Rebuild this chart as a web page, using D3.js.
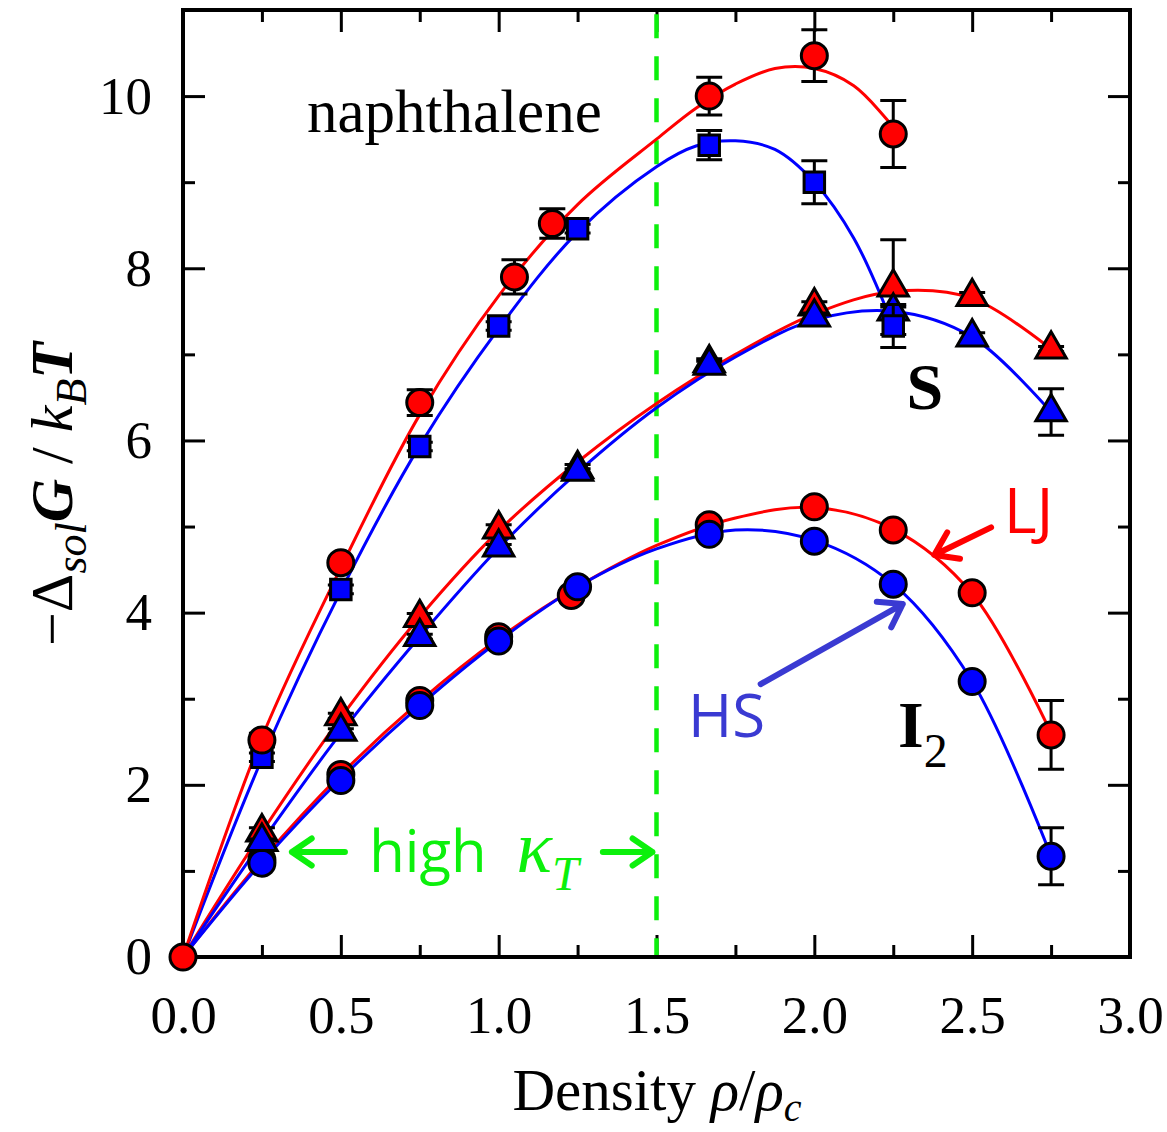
<!DOCTYPE html>
<meta charset="utf-8">
<style>
body { margin: 0; background: white; }
.axis path { display: none; }
.axis line { stroke: #000; stroke-width: 3px; }
.axis text { font-family: "Liberation Serif", serif; font-size: 53px; fill: #000; }
.fit { fill: none; stroke-width: 3px; }
.err { stroke: #000; stroke-width: 3px; fill: none; }
.mark { stroke: #000; stroke-width: 3px; }
</style>
<svg width="1167" height="1132"></svg>
<script src="https://d3js.org/d3.v7.min.js"></script>
<script>
// tick values
var xMajor = [0, 0.5, 1.0, 1.5, 2.0, 2.5, 3.0];
var xMinor = [0.25, 0.75, 1.25, 1.75, 2.25, 2.75];
var yMajor = [0, 2, 4, 6, 8, 10];
var yMinor = [1, 3, 5, 7, 9];

// simulation points [density, value, error]
var naphLJ = [[0.25, 2.52, 0.08], [0.5, 4.58, 0.05], [0.75, 6.44, 0.15], [1.05, 7.9, 0.2],
              [1.17, 8.52, 0.17], [1.667, 10.0, 0.22], [2.0, 10.47, 0.3], [2.25, 9.56, 0.39]];
var naphHS = [[0.25, 2.32, 0.05], [0.5, 4.27, 0.05], [0.75, 5.93, 0.05], [1.0, 7.33, 0.05],
              [1.25, 8.46, 0.05], [1.667, 9.43, 0.17], [2.0, 9.0, 0.25], [2.25, 7.33, 0.25]];
var sLJ = [[0.25, 1.45, 0.05], [0.5, 2.8, 0.03], [0.75, 3.94, 0.05], [1.0, 4.97, 0.05],
           [1.25, 5.67, 0.05], [1.667, 6.9, 0.05], [2.0, 7.56, 0.05], [2.25, 7.78, 0.55],
           [2.5, 7.67, 0.05], [2.75, 7.06, 0.03]];
var sHS = [[0.25, 1.34, 0.03], [0.5, 2.62, 0.03], [0.75, 3.72, 0.03], [1.0, 4.76, 0.03],
           [1.25, 5.64, 0.03], [1.667, 6.87, 0.05], [2.0, 7.43, 0.05], [2.25, 7.5, 0.05],
           [2.5, 7.2, 0.05], [2.75, 6.33, 0.27]];
var i2LJ = [[0.25, 1.13, 0.05], [0.5, 2.12, 0.05], [0.75, 2.98, 0.05], [1.0, 3.72, 0.05],
            [1.23, 4.2, 0.05], [1.667, 5.02, 0.05], [2.0, 5.23, 0.05], [2.25, 4.96, 0.05],
            [2.5, 4.23, 0.06], [2.75, 2.58, 0.4]];
var i2HS = [[0.25, 1.09, 0.05], [0.5, 2.05, 0.03], [0.75, 2.92, 0.03], [1.0, 3.67, 0.03],
            [1.25, 4.3, 0.03], [1.667, 4.91, 0.03], [2.0, 4.83, 0.03], [2.25, 4.33, 0.06],
            [2.5, 3.2, 0.06], [2.75, 1.17, 0.33]];
var origin = [[0, 0, 0]];

// fitted curves [density, value]
var naphLJFit = [[0, 0], [0.25, 2.55], [0.5, 4.52], [0.75, 6.3], [1.0, 7.68], [1.25, 8.74],
                 [1.5, 9.5], [1.625, 9.86], [1.75, 10.14], [1.875, 10.32], [2.0, 10.32],
                 [2.125, 10.12], [2.25, 9.64]];
var naphHSFit = [[0, 0], [0.25, 2.3], [0.5, 4.25], [0.75, 5.94], [1.0, 7.3], [1.25, 8.42],
                 [1.5, 9.18], [1.625, 9.42], [1.75, 9.48], [1.875, 9.38], [2.0, 9.0],
                 [2.125, 8.35], [2.25, 7.33]];
var sLJFit = [[0, 0], [0.25, 1.45], [0.5, 2.78], [0.75, 3.95], [1.0, 4.95], [1.25, 5.75],
              [1.5, 6.43], [1.75, 7.0], [2.0, 7.47], [2.25, 7.73], [2.5, 7.65], [2.75, 7.06]];
var sHSFit = [[0, 0], [0.25, 1.34], [0.5, 2.6], [0.75, 3.72], [1.0, 4.75], [1.25, 5.63],
              [1.5, 6.38], [1.75, 6.97], [2.0, 7.4], [2.25, 7.5], [2.5, 7.2], [2.75, 6.33]];
var i2LJFit = [[0, 0], [0.25, 1.13], [0.5, 2.12], [0.75, 2.97], [1.0, 3.7], [1.25, 4.3],
               [1.5, 4.78], [1.75, 5.1], [2.0, 5.22], [2.25, 4.97], [2.5, 4.22], [2.75, 2.6]];
var i2HSFit = [[0, 0], [0.25, 1.1], [0.5, 2.07], [0.75, 2.92], [1.0, 3.67], [1.25, 4.3],
               [1.5, 4.74], [1.75, 4.96], [2.0, 4.84], [2.25, 4.33], [2.5, 3.2], [2.75, 1.17]];

var red = "#ff0000", blue = "#0000ff", green = "#0cf00c", hsBlue = "#3a3ad2";

var svg = d3.select("svg"),
    margin = {top: 10, right: 37, bottom: 175, left: 183},
    width = 1167 - margin.left - margin.right,
    height = 1132 - margin.top - margin.bottom;

var x = d3.scaleLinear().domain([0, 3]).range([0, width]);
var y = d3.scaleLinear().domain([0, 11]).range([height, 0]);

var g = svg.append("g")
    .attr("transform", "translate(" + margin.left + "," + margin.top + ")");

// axes, ticks pointing inward on all four sides
g.append("g").attr("class", "axis")
    .attr("transform", "translate(0," + height + ")")
    .call(d3.axisBottom(x).tickValues(xMajor).tickSizeInner(-22).tickSizeOuter(0)
        .tickPadding(38).tickFormat(d3.format(".1f")));
g.append("g").attr("class", "axis")
    .attr("transform", "translate(0," + height + ")")
    .call(d3.axisBottom(x).tickValues(xMinor).tickSizeInner(-12).tickSizeOuter(0).tickFormat(""));
g.append("g").attr("class", "axis")
    .call(d3.axisTop(x).tickValues(xMajor).tickSizeInner(-22).tickSizeOuter(0).tickFormat(""));
g.append("g").attr("class", "axis")
    .call(d3.axisTop(x).tickValues(xMinor).tickSizeInner(-12).tickSizeOuter(0).tickFormat(""));

g.append("g").attr("class", "axis")
    .call(d3.axisLeft(y).tickValues(yMajor).tickSizeInner(-22).tickSizeOuter(0)
        .tickPadding(31).tickFormat(d3.format("d")));
g.append("g").attr("class", "axis")
    .call(d3.axisLeft(y).tickValues(yMinor).tickSizeInner(-12).tickSizeOuter(0).tickFormat(""));
g.append("g").attr("class", "axis")
    .attr("transform", "translate(" + width + ",0)")
    .call(d3.axisRight(y).tickValues(yMajor).tickSizeInner(-22).tickSizeOuter(0).tickFormat(""));
g.append("g").attr("class", "axis")
    .attr("transform", "translate(" + width + ",0)")
    .call(d3.axisRight(y).tickValues(yMinor).tickSizeInner(-12).tickSizeOuter(0).tickFormat(""));

// high compressibility boundary
g.append("line")
    .attr("x1", x(1.5)).attr("x2", x(1.5))
    .attr("y1", y(10.95)).attr("y2", y(0))
    .attr("stroke", green).attr("stroke-width", 4.5)
    .attr("stroke-dasharray", "24,18");

g.append("rect")
    .attr("width", width).attr("height", height)
    .attr("fill", "none").attr("stroke", "#000").attr("stroke-width", 4);

// fitted curves
var line = d3.line()
    .x(function(d) { return x(d[0]); })
    .y(function(d) { return y(d[1]); })
    .curve(d3.curveCatmullRom.alpha(0.5));

[[i2LJFit, red], [i2HSFit, blue], [sLJFit, red], [sHSFit, blue], [naphHSFit, blue], [naphLJFit, red]]
  .forEach(function(s) {
    g.append("path").datum(s[0]).attr("class", "fit")
        .attr("stroke", s[1]).attr("d", line);
  });

// points with error bars
function drawSeries(data, color, shape) {
    var cap = 13;
    var eg = g.append("g");
    data.forEach(function(d) {
        var cx = x(d[0]), y0 = y(d[1] - d[2]), y1 = y(d[1] + d[2]);
        eg.append("path").attr("class", "err")
            .attr("d", "M" + cx + "," + y0 + "V" + y1 +
                       "M" + (cx - cap) + "," + y0 + "H" + (cx + cap) +
                       "M" + (cx - cap) + "," + y1 + "H" + (cx + cap));
    });
    var sym = d3.symbol().type(shape === "square" ? d3.symbolSquare : d3.symbolTriangle)
        .size(shape === "square" ? 420 : 400);
    var mg = g.append("g");
    if (shape === "circle") {
        mg.selectAll("circle").data(data).enter().append("circle")
            .attr("class", "mark")
            .attr("cx", function(d) { return x(d[0]); })
            .attr("cy", function(d) { return y(d[1]); })
            .attr("r", 13).attr("fill", color);
    } else {
        mg.selectAll("path").data(data).enter().append("path")
            .attr("class", "mark")
            .attr("transform", function(d) { return "translate(" + x(d[0]) + "," + y(d[1]) + ")"; })
            .attr("d", sym).attr("fill", color);
    }
}
drawSeries(i2LJ, red, "circle");
drawSeries(i2HS, blue, "circle");
drawSeries(sLJ, red, "triangle");
drawSeries(sHS, blue, "triangle");
drawSeries(naphHS, blue, "square");
drawSeries(naphLJ, red, "circle");
drawSeries(origin, red, "circle");

// arrows
function arrow(x1, y1, x2, y2, color, w, head) {
    var a = Math.atan2(y2 - y1, x2 - x1), s = 0.6;
    var p = "M" + x1 + "," + y1 + "L" + x2 + "," + y2 +
        "M" + (x2 - head * Math.cos(a - s)) + "," + (y2 - head * Math.sin(a - s)) +
        "L" + x2 + "," + y2 +
        "L" + (x2 - head * Math.cos(a + s)) + "," + (y2 - head * Math.sin(a + s));
    g.append("path").attr("d", p).attr("fill", "none").attr("stroke", color)
        .attr("stroke-width", w).attr("stroke-linecap", "round").attr("stroke-linejoin", "round");
}

var serif = "Liberation Serif, serif", sans = "Open Sans, sans-serif";

g.append("text").attr("x", x(0.393)).attr("y", y(9.58))
    .style("font-family", serif).style("font-size", "61px").text("naphthalene");

g.append("text").attr("x", x(2.35)).attr("y", y(6.36)).attr("text-anchor", "middle")
    .style("font-family", serif).style("font-size", "66px").style("font-weight", "bold").text("S");

var i2 = g.append("text").attr("x", x(2.265)).attr("y", y(2.44))
    .style("font-family", serif).style("font-size", "66px");
i2.append("tspan").style("font-weight", "bold").text("I");
i2.append("tspan").attr("dy", 20).style("font-size", "48px").text("2");

g.append("text").attr("x", x(2.6)).attr("y", y(4.93))
    .style("font-family", sans).style("font-size", "63px").attr("fill", red).text("LJ");
arrow(x(2.56), y(4.99), x(2.38), y(4.67), red, 6, 26);

g.append("text").attr("x", x(1.6)).attr("y", y(2.55))
    .style("font-family", sans).style("font-size", "60px").attr("fill", hsBlue).text("HS");
arrow(x(1.83), y(3.17), x(2.28), y(4.1), hsBlue, 6, 26);

// high compressibility label
var hk = g.append("text").attr("x", x(0.59)).attr("y", y(0.99)).attr("fill", green)
    .style("font-family", sans).style("font-size", "58px");
hk.append("tspan").text("high");
hk.append("tspan").attr("dx", 30).style("font-family", serif).style("font-style", "italic")
    .style("font-size", "74px").text("\u03ba");
hk.append("tspan").attr("dy", 18).style("font-family", serif).style("font-style", "italic")
    .style("font-size", "48px").text("T");
arrow(x(0.513), y(1.22), x(0.345), y(1.22), green, 6, 24);
arrow(x(1.33), y(1.22), x(1.487), y(1.22), green, 6, 24);

// axis titles
var xt = svg.append("text").attr("x", 657).attr("y", 1110).attr("text-anchor", "middle")
    .style("font-family", serif).style("font-size", "59px");
xt.append("tspan").text("Density ");
xt.append("tspan").style("font-style", "italic").text("\u03c1");
xt.append("tspan").text("/");
xt.append("tspan").style("font-style", "italic").text("\u03c1");
xt.append("tspan").attr("dy", 11).style("font-style", "italic").style("font-size", "40px").text("c");

var yt = svg.append("text").attr("transform", "translate(72,494) rotate(-90)")
    .attr("text-anchor", "middle").style("font-family", serif).style("font-size", "60px");
yt.append("tspan").text("\u2212\u0394");
yt.append("tspan").attr("dy", 14).style("font-style", "italic").style("font-size", "44px").text("sol");
yt.append("tspan").attr("dy", -14).style("font-style", "italic").style("font-weight", "bold").text("G");
yt.append("tspan").text(" / ");
yt.append("tspan").style("font-style", "italic").text("k");
yt.append("tspan").attr("dy", 14).style("font-style", "italic").style("font-size", "44px").text("B");
yt.append("tspan").attr("dy", -14).style("font-style", "italic").style("font-weight", "bold").text("T");
</script>
